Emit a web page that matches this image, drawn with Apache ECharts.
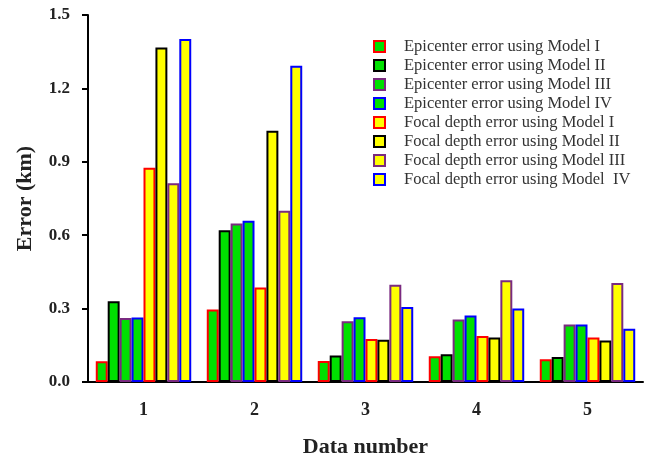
<!DOCTYPE html>
<html>
<head>
<meta charset="utf-8">
<script src="https://cdn.jsdelivr.net/npm/echarts@6/dist/echarts.min.js"></script>
<style>
  html, body { margin: 0; padding: 0; background: #fff; }
  #chart { width: 653px; height: 460px; }
</style>
</head>
<body>
<div id="chart"></div>
<script>
// data
var categories = ['1', '2', '3', '4', '5'];
var yTicks = [0, 0.3, 0.6, 0.9, 1.2, 1.5];

var epiModel1 = [0.085, 0.296, 0.086, 0.105, 0.093];
var epiModel2 = [0.330, 0.620, 0.108, 0.113, 0.102];
var epiModel3 = [0.262, 0.648, 0.248, 0.255, 0.235];
var epiModel4 = [0.264, 0.659, 0.265, 0.272, 0.235];
var focModel1 = [0.876, 0.386, 0.176, 0.188, 0.182];
var focModel2 = [1.367, 1.027, 0.173, 0.182, 0.170];
var focModel3 = [0.812, 0.700, 0.397, 0.416, 0.405];
var focModel4 = [1.402, 1.293, 0.307, 0.300, 0.218];

var seriesNames = [
    'Epicenter error using Model I',
    'Epicenter error using Model II',
    'Epicenter error using Model III',
    'Epicenter error using Model IV',
    'Focal depth error using Model I',
    'Focal depth error using Model II',
    'Focal depth error using Model III',
    'Focal depth error using Model  IV'
];
var seriesData = [epiModel1, epiModel2, epiModel3, epiModel4, focModel1, focModel2, focModel3, focModel4];

var green = '#00e000', yellow = '#ffff00';
var borders = ['#ff0000', '#000000', '#7a2a80', '#0000ff'];

var chart = echarts.init(document.getElementById('chart'));

var series = [];
for (var i = 0; i < seriesData.length; i++) {
    series.push({
        name: seriesNames[i],
        type: 'bar',
        data: seriesData[i],
        barGap: '0%',
        barCategoryGap: '14%',
        itemStyle: {
            color: i < 4 ? green : yellow,
            borderColor: borders[i % 4],
            borderWidth: 2
        }
    });
}

var option = {
    animation: false,
    textStyle: { fontFamily: 'Liberation Serif' },
    grid: { left: 88, right: 10, top: 15, bottom: 78, outerBoundsMode: 'none', containLabel: false },
    legend: {
        orient: 'vertical',
        left: 368,
        top: 33,
        itemWidth: 11,
        itemHeight: 11,
        itemGap: 2,
        icon: 'rect',
        data: seriesNames,
        textStyle: {
            fontFamily: 'Liberation Serif', fontSize: 16.5, lineHeight: 17,
            color: '#333', padding: [0, 0, 0, 14]
        }
    },
    xAxis: {
        type: 'category',
        data: categories,
        name: 'Data number',
        nameLocation: 'middle',
        nameGap: 54,
        nameTextStyle: { fontFamily: 'Liberation Serif', fontSize: 22, fontWeight: 'bold', color: '#222' },
        axisLine: { lineStyle: { color: '#000', width: 2 } },
        axisTick: { length: 6, lineStyle: { color: '#000', width: 2 } },
        axisLabel: { margin: 19, fontSize: 18, fontWeight: 'bold', color: '#222' }
    },
    yAxis: {
        type: 'value',
        min: 0,
        max: 1.5,
        interval: 0.3,
        name: 'Error (km)',
        nameLocation: 'middle',
        nameGap: 52,
        nameTextStyle: { fontFamily: 'Liberation Serif', fontSize: 22, fontWeight: 'bold', color: '#222' },
        axisLine: { show: true, lineStyle: { color: '#000', width: 2 } },
        axisTick: { show: true, length: 6, lineStyle: { color: '#000', width: 2 } },
        splitLine: { show: false },
        axisLabel: {
            margin: 18, fontSize: 17, fontWeight: 'bold', color: '#222',
            formatter: function (v) { return yTicks.indexOf(Math.round(v * 10) / 10) >= 0 ? v.toFixed(1) : ''; }
        }
    },
    series: series
};

chart.setOption(option);
</script>
</body>
</html>
